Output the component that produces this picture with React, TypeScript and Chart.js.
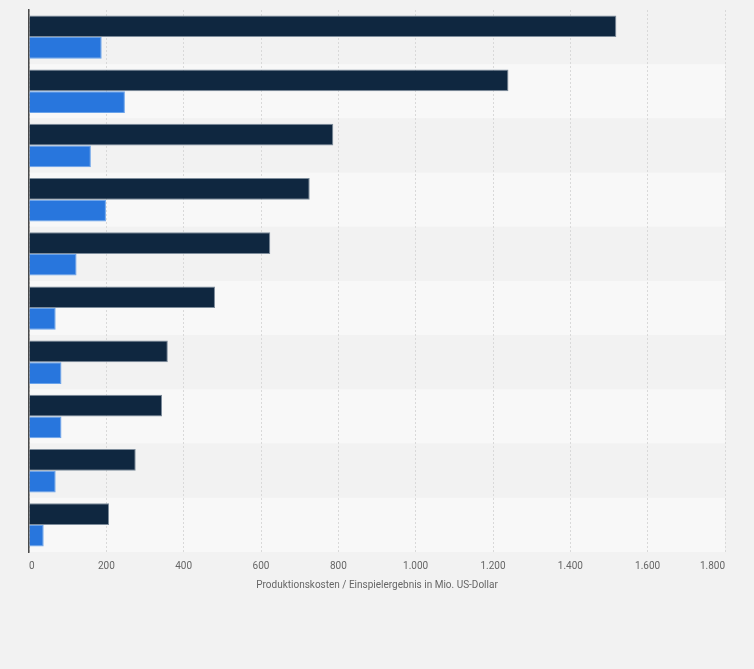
import React, { useEffect, useRef } from 'react';
import { Chart, registerables } from 'chart.js';

Chart.register(...registerables);

const categories = ['1', '2', '3', '4', '5', '6', '7', '8', '9', '10'];
const einspielergebnis = [1519, 1240, 787, 726, 624, 481, 359, 344, 276, 207];
const produktionskosten = [188, 248, 160, 199, 123, 69, 84, 84, 69, 38];
const xTickValues = [0, 200, 400, 600, 800, 1000, 1200, 1400, 1600, 1800];
const axisTitle = 'Produktionskosten / Einspielergebnis in Mio. US-Dollar';

const fmt = (v: number) => String(Math.round(v)).replace(/\B(?=(\d{3})+(?!\d))/g, '.');

const bandsPlugin = {
  id: 'bands',
  beforeDraw(chart: any) {
    const { ctx, chartArea, scales } = chart;
    ctx.save();
    ctx.fillStyle = '#f2f2f2';
    ctx.fillRect(0, 0, chart.width, chart.height);
    const y = scales.y;
    const n = categories.length;
    const step = n > 1 ? Math.abs(y.getPixelForValue(1) - y.getPixelForValue(0)) : chartArea.bottom - chartArea.top;
    for (let i = 0; i < n; i++) {
      const c = y.getPixelForValue(i);
      ctx.fillStyle = i % 2 === 0 ? '#f2f2f2' : '#f8f8f8';
      ctx.fillRect(chartArea.left, c - step / 2, chartArea.right - chartArea.left, step);
    }
    ctx.restore();
  },
};

export default function App() {
  const ref = useRef<HTMLCanvasElement>(null);
  useEffect(() => {
    if (!ref.current) return;
    const chart = new Chart(ref.current, {
      type: 'bar',
      data: {
        labels: categories,
        datasets: [
          {
            label: 'Einspielergebnis',
            data: einspielergebnis,
            backgroundColor: '#0f2740',
            borderColor: '#7d8c9b',
            borderWidth: 1,
            categoryPercentage: 0.8,
            barPercentage: 1.0,
          },
          {
            label: 'Produktionskosten',
            data: produktionskosten,
            backgroundColor: '#2876dd',
            borderColor: '#6aa3ea',
            borderWidth: 1,
            categoryPercentage: 0.8,
            barPercentage: 1.0,
          },
        ],
      },
      options: {
        indexAxis: 'y',
        animation: false,
        responsive: false,
        maintainAspectRatio: false,
        layout: { padding: { left: 29, right: 29, top: 10, bottom: 79 } },
        plugins: {
          legend: { display: false },
          tooltip: { enabled: false },
        },
        scales: {
          x: {
            min: 0,
            max: 1800,
            afterBuildTicks: (scale: any) => {
              scale.ticks = xTickValues.map((v) => ({ value: v }));
            },
            ticks: {
              callback: (v: any) => fmt(Number(v)),
              color: '#666666',
              font: { family: 'Roboto, "Liberation Sans", sans-serif', size: 10 },
              align: 'inner',
              padding: 8,
              maxRotation: 0,
            },
            grid: {
              color: '#d9d9d9',
              drawTicks: false,
              lineWidth: 1,
            },
            border: { display: false, dash: [2, 2] },
            title: {
              display: true,
              text: axisTitle,
              color: '#666666',
              font: { family: 'Roboto, "Liberation Sans", sans-serif', size: 10, lineHeight: 1.0 },
              padding: { top: 0, bottom: 0 },
            },
          },
          y: {
            ticks: { display: false },
            grid: { display: false, drawTicks: false },
            border: { display: true, color: '#4a4a4a', width: 1.5 },
          },
        },
      },
      plugins: [bandsPlugin],
    });
    return () => chart.destroy();
  }, []);
  return (
    <div style={{ position: 'fixed', left: 0, top: 0, width: 754, height: 669 }}>
      <canvas ref={ref} width={754} height={669} style={{ width: 754, height: 669, display: 'block' }} />
    </div>
  );
}
